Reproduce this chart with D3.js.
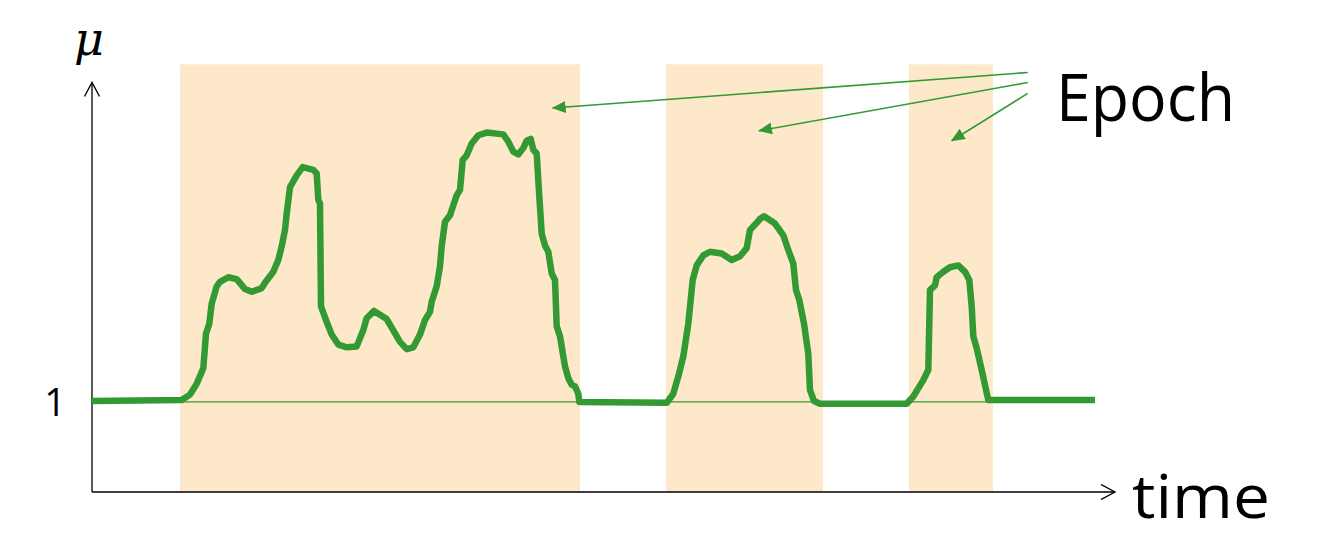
<!DOCTYPE html>
<html lang="en">
<head>
    <meta charset="UTF-8">
    <title>Epoch</title>
    <script src="https://d3js.org/d3.v7.min.js"></script>
    <style>
        html, body { margin: 0; padding: 0; background: #fff; }
        svg { display: block; }
    </style>
</head>
<body>
    <div id="chart"></div>

    <script>
        // time (arbitrary units) and mu
        const time = [0, 8.97, 9.8, 10.47, 11.13, 11.4, 11.73, 11.97, 12.47, 12.8, 13.63, 14.47, 15.3, 15.97, 16.97, 17.3,
            18.13, 18.63, 18.97, 19.3, 19.47, 19.8, 20.47, 21.07, 22.13, 22.47, 22.63, 22.8, 22.9, 23.4, 23.97, 24.63,
            25.47, 26.47, 27.13, 27.47, 28.2, 29.47, 30.8, 31.47, 32.13, 32.8, 33.3, 33.8, 33.97, 34.47, 34.8, 34.97,
            35.3, 35.8, 36.13, 36.47, 36.8, 37.07, 37.47, 37.97, 38.63, 39.47, 41.13, 41.63, 42.13, 42.63, 43.13, 43.47,
            43.87, 44.13, 44.47, 44.73, 44.97, 45.3, 45.63, 45.97, 46.3, 46.47, 46.8, 47.3, 47.63, 47.97, 48.3, 48.63,
            48.73, 57.47, 58.13, 58.63, 59.13, 59.63, 60.07, 60.47, 61.13, 61.8, 62.97, 63.97, 64.8, 65.47, 65.8, 66.4,
            66.8, 67.2, 68.3, 69.13, 69.63, 70.13, 70.4, 70.73, 71.2, 71.63, 71.8, 72.2, 72.8, 80.8, 81.47, 82.13,
            83.13, 83.63, 83.8, 84.3, 84.47, 85.13, 85.8, 86.63, 87.3, 87.73, 87.97, 88.13, 88.47, 88.97, 89.63, 100.3];
        const mu = [1.00, 1.01, 1.07, 1.19, 1.36, 1.74, 1.85, 2.07, 2.26, 2.31, 2.36, 2.34, 2.23, 2.20, 2.24, 2.30,
            2.42, 2.55, 2.70, 2.88, 3.06, 3.35, 3.48, 3.57, 3.54, 3.50, 3.21, 3.17, 2.04, 1.89, 1.73, 1.62,
            1.59, 1.60, 1.78, 1.91, 1.99, 1.90, 1.65, 1.57, 1.59, 1.73, 1.89, 1.98, 2.09, 2.26, 2.48, 2.70,
            2.97, 3.04, 3.15, 3.26, 3.32, 3.65, 3.70, 3.83, 3.92, 3.95, 3.93, 3.85, 3.74, 3.71, 3.78, 3.86,
            3.88, 3.76, 3.72, 3.25, 2.84, 2.71, 2.64, 2.40, 2.33, 1.82, 1.71, 1.38, 1.25, 1.18, 1.16, 1.08,
            0.99, 0.98, 1.08, 1.27, 1.49, 1.85, 2.33, 2.49, 2.60, 2.64, 2.62, 2.55, 2.59, 2.68, 2.88, 2.95,
            3.00, 3.03, 2.95, 2.82, 2.66, 2.51, 2.22, 2.11, 1.85, 1.52, 1.12, 1.00, 0.97, 0.97, 0.97, 1.05,
            1.23, 1.34, 2.22, 2.27, 2.36, 2.42, 2.47, 2.49, 2.42, 2.33, 2.04, 1.71, 1.58, 1.34, 1.01, 1.01];

        // epoch bands [start, end] in time units
        const epochStart = [8.8, 57.4, 81.7];
        const epochEnd = [48.8, 73.1, 90.1];

        // annotation arrows: from label to the bands
        const arrowFromT = [93.57, 93.57, 93.57];
        const arrowFromMu = [4.61, 4.50, 4.38];
        const arrowToT = [46.07, 66.7, 85.97];
        const arrowToMu = [4.22, 3.97, 3.86];

        const yTicks = [1];

        const W = 1330, H = 536;
        const green = "#339933";

        const x = d3.scaleLinear().domain([0, 102.3]).range([92, 1115]);
        const y = d3.scaleLinear().domain([0, 4.5]).range([492, 82.5]);

        const svg = d3.select("#chart").append("svg")
            .attr("width", W)
            .attr("height", H);

        const defs = svg.append("defs");
        defs.append("marker")
            .attr("id", "open")
            .attr("viewBox", "0 0 16 16")
            .attr("refX", 14).attr("refY", 8)
            .attr("markerWidth", 16).attr("markerHeight", 16)
            .attr("markerUnits", "userSpaceOnUse")
            .attr("orient", "auto")
            .append("path")
            .attr("d", "M0,0.5 L14,8 L0,15.5")
            .attr("fill", "none")
            .attr("stroke", "#000")
            .attr("stroke-width", 1.3);
        defs.append("marker")
            .attr("id", "tri")
            .attr("viewBox", "0 0 14 12")
            .attr("refX", 13).attr("refY", 6)
            .attr("markerWidth", 14).attr("markerHeight", 12)
            .attr("markerUnits", "userSpaceOnUse")
            .attr("orient", "auto")
            .append("path")
            .attr("d", "M0,0 L14,6 L0,12 Z")
            .attr("fill", green);

        // epoch bands
        svg.selectAll("rect.epoch")
            .data(epochStart)
            .join("rect")
            .attr("class", "epoch")
            .attr("x", d => x(d))
            .attr("width", (d, i) => x(epochEnd[i]) - x(d))
            .attr("y", y(4.7))
            .attr("height", y(0) - y(4.7))
            .attr("fill", "#fde9ca");

        // axes with arrows
        svg.append("line")
            .attr("x1", x(0)).attr("y1", y(0))
            .attr("x2", x(102.3)).attr("y2", y(0))
            .attr("stroke", "#000").attr("stroke-width", 1.3)
            .attr("marker-end", "url(#open)");
        svg.append("line")
            .attr("x1", x(0)).attr("y1", y(0))
            .attr("x2", x(0)).attr("y2", y(4.5))
            .attr("stroke", "#000").attr("stroke-width", 1.3)
            .attr("marker-end", "url(#open)");

        // thin reference line at mu = 1
        svg.append("line")
            .attr("x1", x(epochStart[0])).attr("y1", y(0.99))
            .attr("x2", x(epochEnd[2])).attr("y2", y(0.99))
            .attr("stroke", green).attr("stroke-width", 1.2);

        // mu curve
        const line = d3.line()
            .x(d => x(d[0]))
            .y(d => y(d[1]));
        svg.append("path")
            .datum(d3.zip(time, mu))
            .attr("d", line)
            .attr("fill", "none")
            .attr("stroke", green)
            .attr("stroke-width", 6.5)
            .attr("stroke-linejoin", "round")
            .attr("stroke-linecap", "butt");

        // arrows pointing to the epochs
        svg.selectAll("line.ann")
            .data(arrowFromT)
            .join("line")
            .attr("class", "ann")
            .attr("x1", d => x(d))
            .attr("y1", (d, i) => y(arrowFromMu[i]))
            .attr("x2", (d, i) => x(arrowToT[i]))
            .attr("y2", (d, i) => y(arrowToMu[i]))
            .attr("stroke", green)
            .attr("stroke-width", 1.6)
            .attr("marker-end", "url(#tri)");

        // tick label
        svg.selectAll("text.tick")
            .data(yTicks)
            .join("text")
            .attr("class", "tick")
            .attr("x", 55)
            .attr("y", d => y(d) + 15)
            .attr("text-anchor", "middle")
            .attr("font-family", "'Open Sans', sans-serif")
            .attr("font-size", 38)
            .text(d => d);

        svg.append("text")
            .attr("x", 89).attr("y", 55)
            .attr("text-anchor", "middle")
            .attr("font-family", "'DejaVu Serif', serif")
            .attr("font-style", "italic")
            .attr("font-size", 46)
            .text("μ");

        svg.append("text")
            .attr("x", 1056).attr("y", 121)
            .attr("font-family", "'Open Sans', sans-serif")
            .attr("font-size", 66)
            .attr("textLength", 179)
            .attr("lengthAdjust", "spacingAndGlyphs")
            .text("Epoch");

        svg.append("text")
            .attr("x", 1132).attr("y", 518)
            .attr("font-family", "'Open Sans', sans-serif")
            .attr("font-size", 60)
            .attr("textLength", 138)
            .attr("lengthAdjust", "spacingAndGlyphs")
            .text("time");
    </script>
</body>
</html>
